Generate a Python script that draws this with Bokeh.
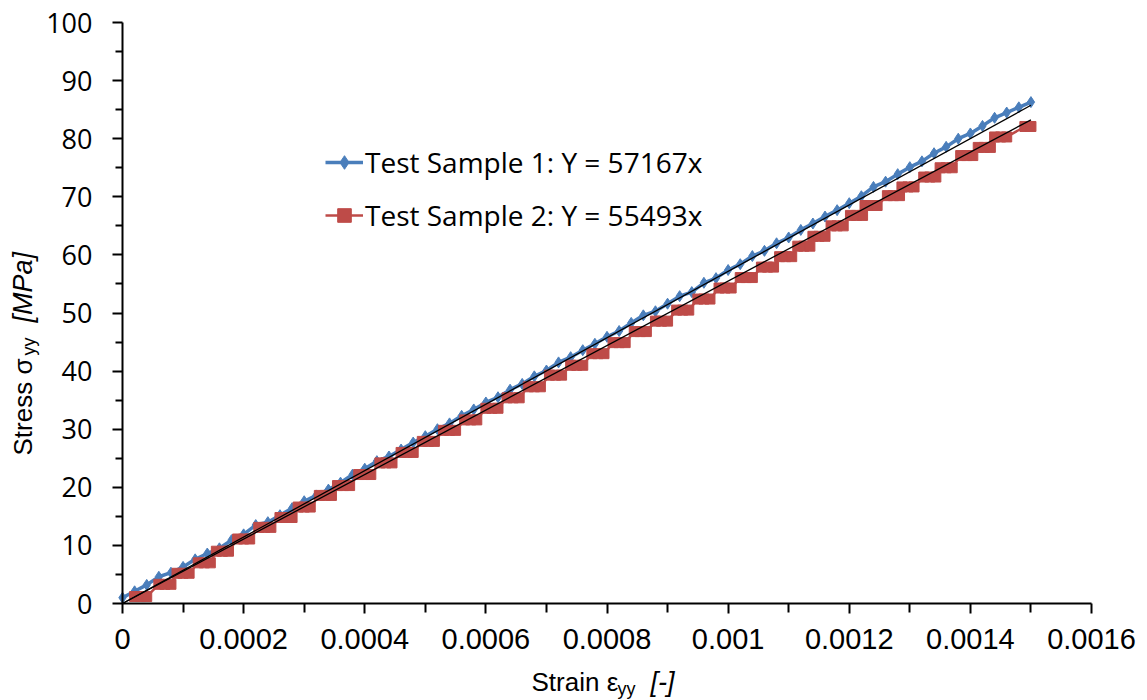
from bokeh.plotting import figure
from bokeh.models import Range1d, FixedTicker, Label, Legend, LegendItem
from bokeh.embed import file_html
from bokeh.resources import INLINE
import math

# ---------------- data ----------------
blue_strain = [0.0, 0.00002, 0.00004, 0.00006, 0.00008, 0.0001, 0.00012, 0.00014, 0.00016, 0.00018,
               0.0002, 0.00022, 0.00024, 0.00026, 0.00028, 0.0003, 0.00032, 0.00034, 0.00036, 0.00038,
               0.0004, 0.00042, 0.00044, 0.00046, 0.00048, 0.0005, 0.00052, 0.00054, 0.00056, 0.00058,
               0.0006, 0.00062, 0.00064, 0.00066, 0.00068, 0.0007, 0.00072, 0.00074, 0.00076, 0.00078,
               0.0008, 0.00082, 0.00084, 0.00086, 0.00088, 0.0009, 0.00092, 0.00094, 0.00096, 0.00098,
               0.001, 0.00102, 0.00104, 0.00106, 0.00108, 0.0011, 0.00112, 0.00114, 0.00116, 0.00118,
               0.0012, 0.00122, 0.00124, 0.00126, 0.00128, 0.0013, 0.00132, 0.00134, 0.00136, 0.00138,
               0.0014, 0.00142, 0.00144, 0.00146, 0.00148, 0.0015]
blue_stress = [1.0, 2.1, 3.2, 4.6, 5.3, 6.3, 7.6, 8.6, 9.5, 10.9,
               11.9, 13.5, 14.0, 15.2, 16.4, 17.6, 18.6, 19.6, 20.8, 22.2,
               23.2, 24.5, 25.3, 26.5, 27.7, 28.8, 30.0, 31.0, 32.3, 33.4,
               34.6, 35.5, 36.8, 37.8, 39.1, 40.1, 41.5, 42.4, 43.6, 44.7,
               45.9, 46.9, 48.3, 49.6, 50.3, 51.6, 52.9, 53.6, 55.2, 56.0,
               57.4, 58.4, 59.8, 60.7, 62.0, 63.0, 64.3, 65.4, 66.6, 67.7,
               68.9, 70.1, 71.7, 72.6, 73.9, 75.1, 76.1, 77.5, 78.6, 80.0,
               80.9, 82.2, 83.6, 84.5, 85.4, 86.3]

red_strain = [0.00002, 0.00003, 0.00004, 0.00006, 0.00007, 0.00008, 0.00009, 0.0001, 0.00011,
              0.000125, 0.000135, 0.000145, 0.000155, 0.000165, 0.000175, 0.00019, 0.0002, 0.00021,
              0.000225, 0.000235, 0.000245, 0.00026, 0.00027, 0.00028, 0.00029, 0.0003, 0.00031,
              0.000325, 0.000335, 0.000345, 0.000355, 0.000365, 0.000375, 0.00039, 0.0004, 0.00041,
              0.000425, 0.000435, 0.000445, 0.00046, 0.00047, 0.00048, 0.000495, 0.000505, 0.000515,
              0.00053, 0.00054, 0.00055, 0.000565, 0.000575, 0.000585, 0.0006, 0.00061, 0.00062,
              0.000635, 0.000645, 0.000655, 0.00067, 0.00068, 0.00069, 0.000705, 0.000715, 0.000725,
              0.00074, 0.00075, 0.00076, 0.000775, 0.000785, 0.000795, 0.00081, 0.00082, 0.00083,
              0.000845, 0.000855, 0.000865, 0.00088, 0.00089, 0.0009, 0.000915, 0.000925, 0.000935,
              0.00095, 0.00096, 0.00097, 0.000985, 0.000995, 0.001005, 0.00102, 0.00103, 0.00104,
              0.001055, 0.001065, 0.001075, 0.001085, 0.001095, 0.001105, 0.001115, 0.001125, 0.001135,
              0.00114, 0.00115, 0.00116, 0.00117, 0.00118, 0.00119, 0.001202, 0.001212, 0.001222,
              0.001226, 0.001236, 0.001246, 0.001263, 0.001273, 0.001283, 0.001287, 0.001297, 0.001307,
              0.001323, 0.001333, 0.001343, 0.00135, 0.00136, 0.00137, 0.001384, 0.001394, 0.001404,
              0.001413, 0.001423, 0.001433, 0.00144, 0.00145, 0.00146, 0.00149, 0.0015]
red_stress = [1.2, 1.2, 1.2, 3.3, 3.3, 3.3, 5.2, 5.2, 5.2,
              7.0, 7.0, 7.0, 9.0, 9.0, 9.0, 11.1, 11.1, 11.1,
              13.1, 13.1, 13.1, 14.8, 14.8, 14.8, 16.6, 16.6, 16.6,
              18.6, 18.6, 18.6, 20.3, 20.3, 20.3, 22.2, 22.2, 22.2,
              24.2, 24.2, 24.2, 26.0, 26.0, 26.0, 27.9, 27.9, 27.9,
              29.8, 29.8, 29.8, 31.6, 31.6, 31.6, 33.6, 33.6, 33.6,
              35.4, 35.4, 35.4, 37.3, 37.3, 37.3, 39.3, 39.3, 39.3,
              41.0, 41.0, 41.0, 43.0, 43.0, 43.0, 44.9, 44.9, 44.9,
              46.8, 46.8, 46.8, 48.6, 48.6, 48.6, 50.5, 50.5, 50.5,
              52.4, 52.4, 52.4, 54.3, 54.3, 54.3, 56.1, 56.1, 56.1,
              57.9, 57.9, 57.9, 59.7, 59.7, 59.7, 61.5, 61.5, 61.5,
              63.2, 63.2, 63.2, 65.0, 65.0, 65.0, 66.8, 66.8, 66.8,
              68.5, 68.5, 68.5, 70.2, 70.2, 70.2, 71.7, 71.7, 71.7,
              73.4, 73.4, 73.4, 75.0, 75.0, 75.0, 77.1, 77.1, 77.1,
              78.5, 78.5, 78.5, 80.3, 80.3, 80.3, 82.1, 82.1]

series_names = ["Test Sample 1: Y = 57167x", "Test Sample 2: Y = 55493x"]
trend_slopes = [57167, 55493]
trend_strain = [0.0, 0.0015]

x_ticks = [0.0, 0.0002, 0.0004, 0.0006, 0.0008, 0.001, 0.0012, 0.0014, 0.0016]
x_tick_labels = ["0", "0.0002", "0.0004", "0.0006", "0.0008", "0.001", "0.0012", "0.0014", "0.0016"]
x_minor = [0.0001, 0.0003, 0.0005, 0.0007, 0.0009, 0.0011, 0.0013, 0.0015]
y_ticks = [0, 10, 20, 30, 40, 50, 60, 70, 80, 90, 100]
y_minor = [5, 15, 25, 35, 45, 55, 65, 75, 85, 95]
x_max, y_max = 0.0016, 100

BLUE = "#4A7EBB"
RED = "#BE4B48"

# ---------------- layout geometry (page pixels) ----------------
W, H = 1147, 700
AX_L, AX_R, AX_T, AX_B = 122, 1091, 22, 603   # where the axes box sits on the page
xpx = x_max / (AX_R - AX_L)                   # data units per pixel
ypx = y_max / (AX_B - AX_T)

# the frame covers the whole canvas; the axes are pinned at 0 so titles are never clipped
p = figure(width=W, height=H,
           x_range=Range1d(-AX_L * xpx, (W - AX_L) * xpx),
           y_range=Range1d(-(H - AX_B) * ypx, y_max + AX_T * ypx),
           output_backend="svg", toolbar_location=None,
           min_border_left=0, min_border_right=0, min_border_top=0, min_border_bottom=0)
p.xgrid.visible = False
p.ygrid.visible = False
p.outline_line_color = None
p.background_fill_color = "white"
p.border_fill_color = "white"

for ax in (p.xaxis[0], p.yaxis[0]):
    ax.fixed_location = 0
    ax.axis_line_color = "black"
    ax.axis_line_width = 2
    ax.major_tick_line_color = "black"
    ax.major_tick_line_width = 2
    ax.minor_tick_line_color = "black"
    ax.minor_tick_line_width = 2
    ax.major_tick_in = 0
    ax.minor_tick_in = 0
    ax.major_label_text_color = "black"

p.xaxis.bounds = (0, x_max)
p.xaxis.ticker = FixedTicker(ticks=x_ticks, minor_ticks=x_minor)
p.xaxis.major_label_overrides = {t: l for t, l in zip(x_ticks, x_tick_labels)}
p.xaxis.major_tick_out = 10
p.xaxis.minor_tick_out = 9
p.xaxis.major_label_text_font = "Liberation Sans"
p.xaxis.major_label_text_font_size = "29px"
p.xaxis.major_label_standoff = 15

p.yaxis.bounds = (0, y_max)
p.yaxis.ticker = FixedTicker(ticks=y_ticks, minor_ticks=y_minor)
p.yaxis.major_tick_out = 10
p.yaxis.minor_tick_out = 7
p.yaxis.major_label_text_font = "Open Sans"
p.yaxis.major_label_text_font_size = "27px"
p.yaxis.major_label_standoff = 20

# data
l1 = p.line(blue_strain, blue_stress, line_color=BLUE, line_width=3.5)
s1 = p.scatter(blue_strain, blue_stress, marker="diamond", size=11, fill_color=BLUE, line_color=BLUE)
l2 = p.line(red_strain, red_stress, line_color=RED, line_width=2.5)
s2 = p.scatter(red_strain, red_stress, marker="square", size=10, fill_color=RED, line_color=RED)

for k in trend_slopes:
    p.line(trend_strain, [k * x for x in trend_strain], line_color="black", line_width=1.3)

legend = Legend(items=[LegendItem(label=series_names[0], renderers=[l1, s1]),
                       LegendItem(label=series_names[1], renderers=[l2, s2])],
                location=(325, 466), border_line_color=None, background_fill_alpha=0,
                padding=0, margin=0, spacing=15, glyph_width=38, glyph_height=34,
                label_height=34, label_standoff=2,
                label_text_font="Open Sans", label_text_font_size="28px",
                label_text_color="black")
p.add_layout(legend)

# axis titles (with subscripts)
def xd(px):
    return (px - AX_L) * xpx
def yd(py):
    return (AX_B - py) * ypx

lab_font = "Liberation Sans"
# x-axis title
p.add_layout(Label(x=xd(531), y=yd(681), text="Strain ε", text_color="black",
                   text_font=lab_font, text_font_size="26px", text_align="left", text_baseline="alphabetic"))
p.add_layout(Label(x=xd(617), y=yd(688), text="yy", text_color="black",
                   text_font=lab_font, text_font_size="18px", text_align="left", text_baseline="alphabetic"))
p.add_layout(Label(x=xd(650), y=yd(681), text="[-]", text_color="black",
                   text_font=lab_font, text_font_style="italic",
                   text_font_size="27px", text_align="left", text_baseline="alphabetic"))
# y-axis title (rotated)
p.add_layout(Label(x=xd(22), y=yd(455), text="Stress σ", text_color="black",
                   text_font=lab_font, text_font_size="26px", angle=math.pi / 2,
                   text_align="left", text_baseline="alphabetic"))
p.add_layout(Label(x=xd(28), y=yd(355), text="yy", text_color="black",
                   text_font=lab_font, text_font_size="18px", angle=math.pi / 2,
                   text_align="left", text_baseline="alphabetic"))
p.add_layout(Label(x=xd(22), y=yd(322), text="[MPa]", text_color="black",
                   text_font=lab_font, text_font_style="italic", text_font_size="27px", angle=math.pi / 2,
                   text_align="left", text_baseline="alphabetic"))

open("out.html", "w").write(file_html(p, INLINE))
